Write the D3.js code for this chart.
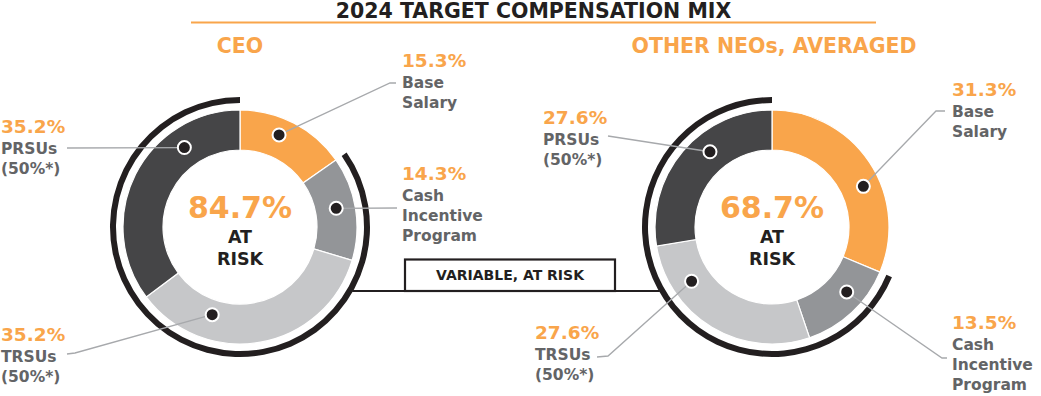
<!DOCTYPE html>
<html>
<head>
<meta charset="utf-8">
<script src="https://cdn.jsdelivr.net/npm/d3@7"></script>
<style>
  html, body { margin: 0; padding: 0; background: #fff; }
  svg { display: block; }
  text { font-family: "DejaVu Sans", Verdana, sans-serif; font-weight: bold; }
</style>
</head>
<body>
<svg id="chart" width="1041" height="396"></svg>
<script>
// ---------- DATA ----------
const title = "2024 TARGET COMPENSATION MIX";
const groups = ["CEO", "OTHER NEOs, AVERAGED"];
const components = ["Base Salary", "Cash Incentive Program", "TRSUs", "PRSUs"];
const componentLines = [["Base", "Salary"], ["Cash", "Incentive", "Program"], ["TRSUs", "(50%*)"], ["PRSUs", "(50%*)"]];
const ceoValues = [15.3, 14.3, 35.2, 35.2];
const neoValues = [31.3, 13.5, 27.6, 27.6];
const atRiskValues = [84.7, 68.7];
const atRiskLabel = ["AT", "RISK"];
const boxLabel = "VARIABLE, AT RISK";

// ---------- STYLE / LAYOUT ----------
const ORANGE = "#f9a54b";
const TEXTGRAY = "#636466";
const BLACK = "#231f20";
const sliceColors = ["#f9a54b", "#939598", "#c6c7c9", "#454547"];
const LEADER = "#a7a9ac";

const svg = d3.select("#chart");

// Title
svg.append("text").attr("x", 533.5).attr("y", 18).attr("text-anchor", "middle")
  .attr("font-size", 20.5).attr("fill", BLACK).text(title);
svg.append("line").attr("x1", 191).attr("x2", 876).attr("y1", 22.5).attr("y2", 22.5)
  .attr("stroke", ORANGE).attr("stroke-width", 2);

const donuts = [
  {
    values: ceoValues, cx: 240, cy: 227, headX: 240,
    dots: [ // angle (deg), radius
      {a: 23, r: 100}, {a: 79, r: 98}, {a: 197.6, r: 92}, {a: 325, r: 97}
    ],
    labels: [
      {x: 402, y: 67, anchor: "start", leader: [[390, 83], [396, 83]]},
      {x: 402, y: 180, anchor: "start", leader: [[397, 208]]},
      {x: 1, y: 341, anchor: "start", leader: [[75, 353], [67, 354]]},
      {x: 1, y: 133, anchor: "start", leader: [[67, 148]]}
    ]
  },
  {
    values: neoValues, cx: 772, cy: 227, headX: 774,
    dots: [
      {a: 66, r: 100}, {a: 131, r: 99}, {a: 236, r: 97}, {a: 320.5, r: 97.5}
    ],
    labels: [
      {x: 952, y: 96, anchor: "start", leader: [[936, 111], [945, 111]]},
      {x: 952, y: 329, anchor: "start", leader: [[942, 358], [947, 358]]},
      {x: 535, y: 339, anchor: "start", leader: [[608, 356], [597, 357]]},
      {x: 543, y: 124, anchor: "start", leader: [[608, 136]]}
    ]
  }
];

const R_IN = 77, R_OUT = 117, RISK_IN = 124, RISK_OUT = 130;
const pie = d3.pie().sort(null).value(d => d).startAngle(0).endAngle(2 * Math.PI);
const arc = d3.arc().innerRadius(R_IN).outerRadius(R_OUT);
const riskArc = d3.arc().innerRadius(RISK_IN).outerRadius(RISK_OUT);
const angleScale = d3.scaleLinear().domain([0, 360]).range([0, 2 * Math.PI]);

// connecting line + box (drawn first, under everything)
const lineY = 291;
const dxArc = Math.sqrt(RISK_OUT * RISK_OUT - (lineY - donuts[0].cy) ** 2);
svg.append("line")
  .attr("x1", donuts[0].cx + dxArc - 1).attr("x2", donuts[1].cx - dxArc + 1)
  .attr("y1", lineY).attr("y2", lineY)
  .attr("stroke", BLACK).attr("stroke-width", 2);
svg.append("rect").attr("x", 405).attr("y", 259.5).attr("width", 210).attr("height", 31.5)
  .attr("fill", "#fff").attr("stroke", BLACK).attr("stroke-width", 2.2);
svg.append("text").attr("x", 510).attr("y", 280).attr("text-anchor", "middle")
  .attr("font-size", 14).attr("fill", BLACK).text(boxLabel);

donuts.forEach((dn, gi) => {
  const g = svg.append("g").attr("transform", `translate(${dn.cx},${dn.cy})`);
  const arcs = pie(dn.values);

  // group heading
  svg.append("text").attr("x", dn.headX).attr("y", 53).attr("text-anchor", "middle")
    .attr("font-size", 20.5).attr("fill", ORANGE).text(groups[gi]);

  // slices
  g.selectAll("path.slice").data(arcs).join("path")
    .attr("class", "slice")
    .attr("d", arc)
    .attr("fill", (d, i) => sliceColors[i])
    .attr("stroke", "#fff").attr("stroke-width", 1.2);

  // at-risk outer arc (everything after base salary)
  g.append("path")
    .attr("d", riskArc({startAngle: arcs[0].endAngle, endAngle: 2 * Math.PI}))
    .attr("fill", BLACK);

  // leaders + dots + labels
  arcs.forEach((d, i) => {
    const dot = dn.dots[i];
    const ang = angleScale(dot.a);
    const px = dn.cx + dot.r * Math.sin(ang);
    const py = dn.cy - dot.r * Math.cos(ang);
    const lb = dn.labels[i];
    const pts = [[px, py]].concat(lb.leader);
    svg.append("path").attr("d", d3.line()(pts))
      .attr("fill", "none").attr("stroke", LEADER).attr("stroke-width", 1.3);
    svg.append("circle").attr("cx", px).attr("cy", py).attr("r", 6.5)
      .attr("fill", BLACK).attr("stroke", "#fff").attr("stroke-width", 2);

    svg.append("text").attr("x", lb.x).attr("y", lb.y).attr("text-anchor", lb.anchor)
      .attr("font-size", 18.5).attr("fill", ORANGE).text(d3.format(".1f")(d.data) + "%");
    componentLines[i].forEach((t, k) => {
      svg.append("text").attr("x", lb.x).attr("y", lb.y + 21 + k * 20)
        .attr("text-anchor", lb.anchor).attr("font-size", 15.5).attr("fill", TEXTGRAY).text(t);
    });
  });

  // center text
  svg.append("text").attr("x", dn.cx).attr("y", 217.5).attr("text-anchor", "middle")
    .attr("font-size", 30).attr("fill", ORANGE).text(d3.format(".1f")(atRiskValues[gi]) + "%");
  atRiskLabel.forEach((t, k) => {
    svg.append("text").attr("x", dn.cx).attr("y", 243 + k * 22).attr("text-anchor", "middle")
      .attr("font-size", 17.5).attr("fill", BLACK).text(t);
  });
});
</script>
</body>
</html>
